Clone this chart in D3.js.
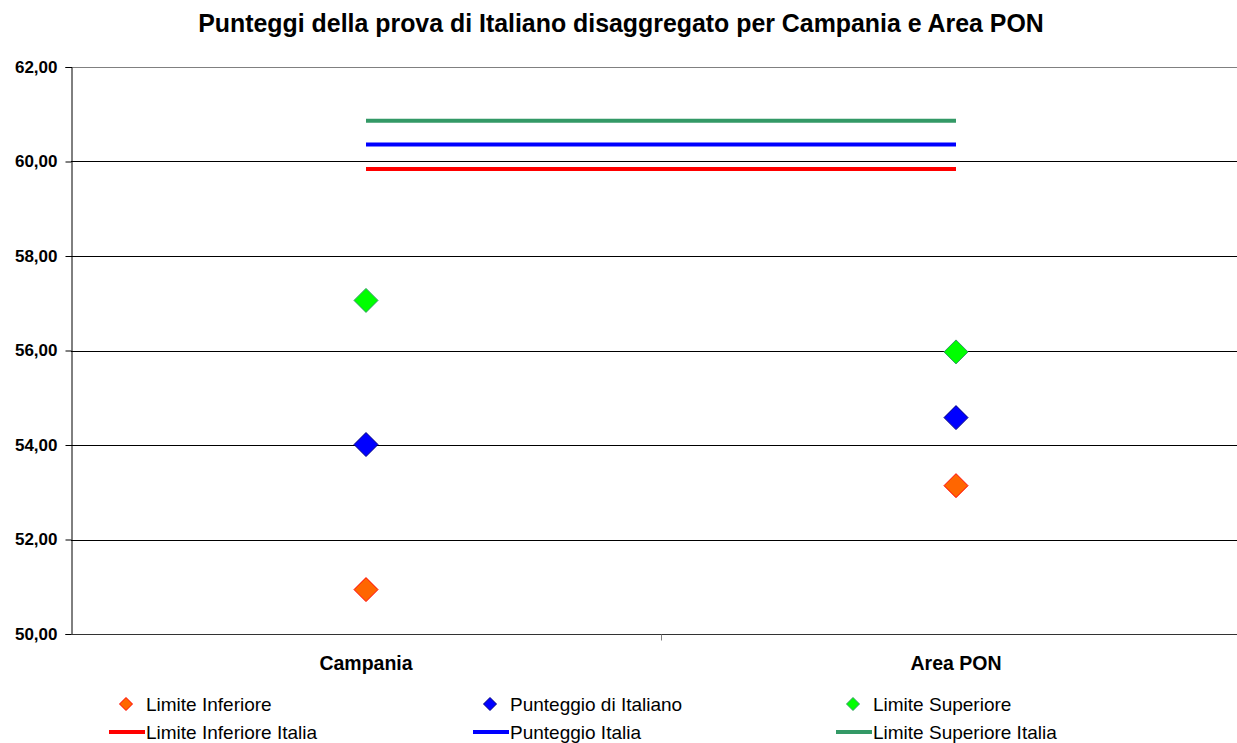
<!DOCTYPE html>
<html>
<head>
<meta charset="utf-8">
<script src="https://cdn.jsdelivr.net/npm/d3@7"></script>
<style>
  html, body { margin: 0; padding: 0; background: #fff; }
  svg { display: block; font-family: "Liberation Sans", Arial, sans-serif; }
</style>
</head>
<body>
<svg id="chart" width="1237" height="743"></svg>
<script>
// Categories and series values
const categories = ["Campania", "Area PON"];
const limiteInferiore = [50.94, 53.14];
const punteggioItaliano = [54.01, 54.58];
const limiteSuperiore = [57.06, 55.97];
const limiteInferioreItalia = [59.84, 59.84];
const punteggioItalia = [60.36, 60.36];
const limiteSuperioreItalia = [60.86, 60.86];
const yTicks = [50, 52, 54, 56, 58, 60, 62];

const pointSeries = [
  { name: "Limite Inferiore", values: limiteInferiore, fill: "#FF6600", stroke: "#FF0000" },
  { name: "Punteggio di Italiano", values: punteggioItaliano, fill: "#0000FF", stroke: "#000080" },
  { name: "Limite Superiore", values: limiteSuperiore, fill: "#00FF00", stroke: "#339966" }
];
const lineSeries = [
  { name: "Limite Inferiore Italia", values: limiteInferioreItalia, color: "#FF0000" },
  { name: "Punteggio Italia", values: punteggioItalia, color: "#0000FF" },
  { name: "Limite Superiore Italia", values: limiteSuperioreItalia, color: "#339966" }
];

const svg = d3.select("#chart");
const W = 1237, H = 743;
const plot = { left: 71, right: 1251, top: 67, bottom: 634 };

const x = d3.scaleBand().domain(categories).range([plot.left, plot.right]);
const y = d3.scaleLinear().domain([50, 62]).range([plot.bottom, plot.top]);
const cx = c => x(c) + x.bandwidth() / 2;

// Title
svg.append("text")
  .attr("x", 621).attr("y", 32)
  .attr("text-anchor", "middle")
  .attr("font-size", 24.9).attr("font-weight", "bold")
  .text("Punteggi della prova di Italiano disaggregato per Campania e Area PON");

// Gridlines
svg.append("g")
  .selectAll("line").data(yTicks).join("line")
  .attr("x1", plot.left).attr("x2", W)
  .attr("y1", d => Math.round(y(d)) + 0.5).attr("y2", d => Math.round(y(d)) + 0.5)
  .attr("stroke", d => d === 62 ? "#808080" : "#000")
  .attr("stroke-width", 1);

// Y axis
const fmt = d => d3.format(".2f")(d).replace(".", ",");
const yAxis = svg.append("g")
  .attr("transform", `translate(${plot.left + 0.5},0)`)
  .call(d3.axisLeft(y).tickValues(yTicks).tickFormat(fmt).tickSize(6).tickPadding(8));
yAxis.select(".domain").attr("stroke", "#000");
yAxis.selectAll(".tick line").attr("stroke", "#000");
yAxis.selectAll(".tick text")
  .attr("font-family", "Liberation Sans, Arial, sans-serif")
  .attr("font-size", 17).attr("font-weight", "bold").attr("fill", "#000");

// X axis: ticks at category boundaries
const xAxisG = svg.append("g").attr("transform", `translate(0,${Math.round(y(50)) + 0.5})`);
xAxisG.append("line").attr("x1", plot.left).attr("x2", W).attr("stroke", "#333");
xAxisG.selectAll("line.tk").data(categories.slice(1)).join("line")
  .attr("class", "tk")
  .attr("x1", d => Math.round(x(d)) + 0.5).attr("x2", d => Math.round(x(d)) + 0.5)
  .attr("y1", 0).attr("y2", 6).attr("stroke", "#808080");
xAxisG.selectAll("text").data(categories).join("text")
  .attr("x", d => cx(d)).attr("y", 35)
  .attr("text-anchor", "middle")
  .attr("font-size", 19.5).attr("font-weight", "bold")
  .text(d => d);

// Reference lines across categories
const line = d3.line().x((v, i) => cx(categories[i])).y(v => y(v));
svg.append("g").selectAll("path").data(lineSeries).join("path")
  .attr("d", d => line(d.values))
  .attr("fill", "none").attr("stroke", d => d.color).attr("stroke-width", 4);

// Diamond markers
const diamond = (px, py, r) => `M${px},${py - r}L${px + r},${py}L${px},${py + r}L${px - r},${py}Z`;
pointSeries.forEach(s => {
  svg.append("g").selectAll("path").data(s.values).join("path")
    .attr("d", (v, i) => diamond(cx(categories[i]), y(v), 12))
    .attr("fill", s.fill).attr("stroke", s.stroke).attr("stroke-width", 1);
});

// Legend
const cols = [109, 473, 836];
const legend = svg.append("g");
pointSeries.forEach((s, i) => {
  const g = legend.append("g").attr("transform", `translate(${cols[i]},704)`);
  g.append("path").attr("d", diamond(17, 0, 6.5))
    .attr("fill", s.fill).attr("stroke", s.stroke).attr("stroke-width", 1);
  g.append("text").attr("x", 37).attr("y", 6.5).attr("font-size", 19).text(s.name);
});
lineSeries.forEach((s, i) => {
  const g = legend.append("g").attr("transform", `translate(${cols[i]},732)`);
  g.append("line").attr("x1", 0).attr("x2", 36).attr("stroke", s.color).attr("stroke-width", 4);
  g.append("text").attr("x", 37).attr("y", 6.5).attr("font-size", 19).text(s.name);
});
</script>
</body>
</html>
